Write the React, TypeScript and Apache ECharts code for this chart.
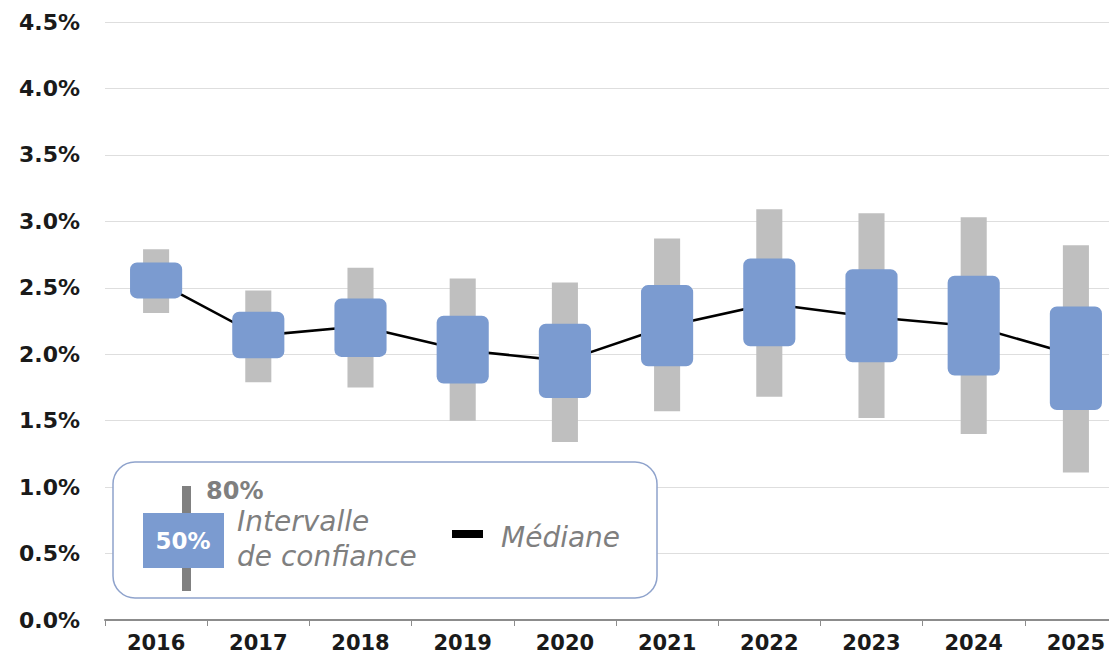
import React, { useEffect, useRef } from "react";
import * as echarts from "echarts";

const years = ["2016", "2017", "2018", "2019", "2020", "2021", "2022", "2023", "2024", "2025"];
const low80 = [2.31, 1.79, 1.75, 1.50, 1.34, 1.57, 1.68, 1.52, 1.40, 1.11];
const high80 = [2.79, 2.48, 2.65, 2.57, 2.54, 2.87, 3.09, 3.06, 3.03, 2.82];
const low50 = [2.42, 1.97, 1.98, 1.78, 1.67, 1.91, 2.06, 1.94, 1.84, 1.58];
const high50 = [2.69, 2.32, 2.42, 2.29, 2.23, 2.52, 2.72, 2.64, 2.59, 2.36];
const median = [2.55, 2.14, 2.21, 2.03, 1.95, 2.21, 2.38, 2.28, 2.21, 1.99];
const yTicks = { min: 0, max: 4.5, interval: 0.5 };

const BLUE = "#7b9bd0";
const GRAY = "#bfbfbf";
const TEXT_GRAY = "#7f7f7f";
const FONT = "DejaVu Sans";

export default function App() {
  const ref = useRef<HTMLDivElement>(null);

  useEffect(() => {
    if (!ref.current) return;
    const chart = echarts.init(ref.current, undefined, { renderer: "svg" });
    const boxData = years.map((_, i) => [i, low80[i], high80[i], low50[i], high50[i]]);

    chart.setOption({
      animation: false,
      backgroundColor: "#ffffff",
      grid: { left: 105, right: 0, top: 22, bottom: 40, containLabel: false },
      xAxis: {
        type: "category",
        data: years,
        boundaryGap: true,
        axisLine: { show: true, lineStyle: { color: "#8c8c8c", width: 2 } },
        axisTick: { show: true, length: 6, lineStyle: { color: "#8c8c8c", width: 1 } },
        axisLabel: {
          margin: 12,
          fontSize: 21,
          fontWeight: "bold",
          fontFamily: FONT,
          color: "#1a1a1a",
        },
        splitLine: { show: false },
      },
      yAxis: {
        type: "value",
        min: yTicks.min,
        max: yTicks.max,
        interval: yTicks.interval,
        axisLine: { show: false },
        axisTick: { show: false },
        axisLabel: {
          margin: 25,
          fontSize: 22,
          fontWeight: "bold",
          fontFamily: FONT,
          color: "#1a1a1a",
          formatter: (v: number) => v.toFixed(1) + "%",
        },
        splitLine: { show: true, lineStyle: { color: "#dedede", width: 1 } },
      },
      series: [
        {
          type: "line",
          data: median,
          symbol: "none",
          z: 1,
          lineStyle: { color: "#000000", width: 2.6 },
          itemStyle: { color: "#000000" },
        },
        {
          type: "custom",
          z: 3,
          data: boxData,
          encode: { x: 0, y: [1, 2, 3, 4] },
          renderItem: (params: any, api: any) => {
            const x = api.value(0);
            const pLo80 = api.coord([x, api.value(1)]);
            const pHi80 = api.coord([x, api.value(2)]);
            const pLo50 = api.coord([x, api.value(3)]);
            const pHi50 = api.coord([x, api.value(4)]);
            const band = api.size([1, 0])[0];
            const gw = band * 0.255;
            const bw = band * 0.51;
            return {
              type: "group",
              children: [
                {
                  type: "rect",
                  shape: { x: pLo80[0] - gw / 2, y: pHi80[1], width: gw, height: pLo80[1] - pHi80[1] },
                  style: { fill: GRAY },
                },
                {
                  type: "rect",
                  shape: { x: pLo50[0] - bw / 2, y: pHi50[1], width: bw, height: pLo50[1] - pHi50[1], r: 7 },
                  style: { fill: BLUE },
                },
              ],
            };
          },
        },
      ],
      graphic: [
        {
          type: "rect",
          z: 100,
          shape: { x: 113, y: 462, width: 544, height: 136, r: 22 },
          style: { fill: "#ffffff", stroke: "#8fa3cc", lineWidth: 1.5 },
        },
        {
          type: "rect",
          z: 101,
          shape: { x: 182, y: 486, width: 9, height: 105 },
          style: { fill: "#808080" },
        },
        {
          type: "rect",
          z: 102,
          shape: { x: 143, y: 513, width: 81, height: 55 },
          style: { fill: BLUE },
        },
        {
          type: "text",
          z: 103,
          x: 183,
          y: 541,
          style: {
            text: "50%",
            fill: "#ffffff",
            font: `bold 23px "${FONT}"`,
            align: "center",
            verticalAlign: "middle",
          },
        },
        {
          type: "text",
          z: 103,
          x: 206,
          y: 491,
          style: {
            text: "80%",
            fill: TEXT_GRAY,
            font: `bold 24px "${FONT}"`,
            align: "left",
            verticalAlign: "middle",
          },
        },
        {
          type: "text",
          z: 103,
          x: 237,
          y: 521,
          style: {
            text: "Intervalle",
            fill: TEXT_GRAY,
            font: `italic 28px "${FONT}"`,
            align: "left",
            verticalAlign: "middle",
          },
        },
        {
          type: "text",
          z: 103,
          x: 237,
          y: 556,
          style: {
            text: "de confiance",
            fill: TEXT_GRAY,
            font: `italic 28px "${FONT}"`,
            align: "left",
            verticalAlign: "middle",
          },
        },
        {
          type: "rect",
          z: 103,
          shape: { x: 452, y: 530, width: 31, height: 8 },
          style: { fill: "#000000" },
        },
        {
          type: "text",
          z: 103,
          x: 501,
          y: 537,
          style: {
            text: "Médiane",
            fill: TEXT_GRAY,
            font: `italic 28px "${FONT}"`,
            align: "left",
            verticalAlign: "middle",
          },
        },
      ],
    });

    return () => chart.dispose();
  }, []);

  return (
    <div
      style={{
        position: "absolute",
        left: 0,
        top: 0,
        width: 1109,
        height: 660,
        overflow: "hidden",
        background: "#ffffff",
      }}
    >
      <div ref={ref} style={{ width: 1127, height: 660 }} />
    </div>
  );
}
